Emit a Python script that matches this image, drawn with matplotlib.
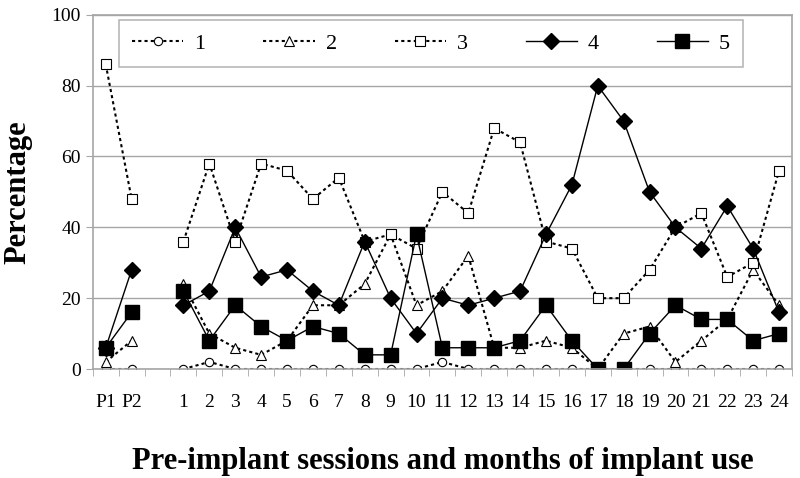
import matplotlib.pyplot as plt
import numpy as np

# categorias del eje x: dos sesiones pre-implante, un hueco, y 24 meses
etiquetas = ['P1', 'P2', ''] + [str(i) for i in range(1, 25)]

nan = np.nan
s1 = [0, 0, nan, 0, 2, 0, 0, 0, 0, 0, 0, 0, 0, 2, 0, 0, 0, 0, 0, 0, 0, 0, 0, 0, 0, 0, 0]
s2 = [2, 8, nan, 24, 10, 6, 4, 8, 18, 18, 24, 38, 18, 22, 32, 6, 6, 8, 6, 0, 10, 12, 2, 8, 14, 28, 18]
s3 = [86, 48, nan, 36, 58, 36, 58, 56, 48, 54, 36, 38, 34, 50, 44, 68, 64, 36, 34, 20, 20, 28, 40, 44, 26, 30, 56]
s4 = [6, 28, nan, 18, 22, 40, 26, 28, 22, 18, 36, 20, 10, 20, 18, 20, 22, 38, 52, 80, 70, 50, 40, 34, 46, 34, 16]
s5 = [6, 16, nan, 22, 8, 18, 12, 8, 12, 10, 4, 4, 38, 6, 6, 6, 8, 18, 8, 0, 0, 10, 18, 14, 14, 8, 10]

plt.rcParams['font.family'] = ['Liberation Serif', 'DejaVu Serif']

fig = plt.figure(figsize=(8, 4.78), dpi=100)
ax = fig.add_axes([0.116, 0.228, 0.874, 0.741])

x = np.arange(len(etiquetas))
gris = '#a6a6a6'
punteado = (0, (1.5, 1.5))

ax.plot(x, s1, ls=punteado, color='black', lw=1.5, marker='o', ms=6, mfc='white', mec='black', mew=0.8, label='1')
ax.plot(x, s2, ls=punteado, color='black', lw=1.5, marker='^', ms=7, mfc='white', mec='black', mew=0.8, label='2')
ax.plot(x, s3, ls=punteado, color='black', lw=1.5, marker='s', ms=7, mfc='white', mec='black', mew=0.8, label='3')
ax.plot(x, s4, '-', color='black', lw=1.0, marker='D', ms=8, mfc='black', mec='black', label='4')
ax.plot(x, s5, '-', color='black', lw=1.0, marker='s', ms=9.5, mfc='black', mec='black', label='5')

ax.set_xlim(-0.5, len(etiquetas) - 0.5)
ax.set_ylim(0, 100)
ax.set_xticks(x)
ax.set_xticklabels(etiquetas, fontsize=14)
ax.set_xticks(np.arange(-0.5, len(etiquetas)), minor=True)
ax.tick_params(axis='x', which='major', length=0, pad=18)
ax.tick_params(axis='x', which='minor', length=5, color=gris)
ax.set_yticks([0, 20, 40, 60, 80, 100])
ax.tick_params(axis='y', labelsize=14, length=5, color=gris)
ax.yaxis.grid(True, color=gris, lw=1)
ax.set_axisbelow(True)
for lado in ['left', 'bottom', 'top', 'right']:
    ax.spines[lado].set_color(gris)
    ax.spines[lado].set_linewidth(1.2)

ax.set_ylabel('Percentage', fontsize=22, fontweight='bold', labelpad=14)
ax.set_xlabel('Pre-implant sessions and months of implant use', fontsize=22, fontweight='bold', labelpad=26)

leg = ax.legend(ncol=5, loc='upper center', bbox_to_anchor=(0.484, 0.986),
                fontsize=16, frameon=True, fancybox=False, handlelength=2.3, handletextpad=0.5,
                columnspacing=2.6, borderpad=0.6, borderaxespad=0)
leg.get_frame().set_edgecolor(gris)
leg.get_frame().set_linewidth(1.2)

plt.savefig('out.png', dpi=100)
